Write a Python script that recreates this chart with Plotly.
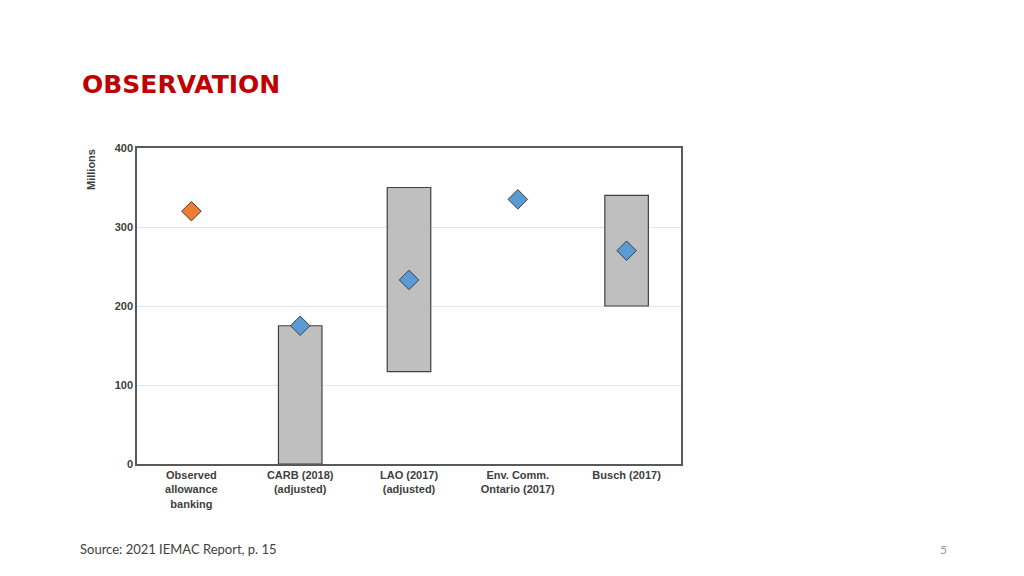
import plotly.graph_objects as go

categories = ["Observed<br>allowance<br>banking", "CARB (2018)<br>(adjusted)", "LAO (2017)<br>(adjusted)", "Env. Comm.<br>Ontario (2017)", "Busch (2017)"]
range_low = [None, 0, 117, None, 200]
range_high = [None, 175, 350, None, 340]
point_values = [320, 175, 233, 335, 270]
point_colors = ["#ED7D31", "#5B9BD5", "#5B9BD5", "#5B9BD5", "#5B9BD5"]

bar_len = [None if l is None else h - l for l, h in zip(range_low, range_high)]

L, R, T, B = 129, 351, 140, 120
fig = go.Figure()
fig.add_trace(go.Bar(x=categories, y=bar_len, base=range_low, width=0.4,
                     marker=dict(color="#BFBFBF", line=dict(color="#404040", width=1.2)),
                     showlegend=False))
fig.add_trace(go.Scatter(x=categories, y=point_values, mode="markers",
                         marker=dict(symbol="diamond", size=15, color=point_colors,
                                     line=dict(color="#404040", width=1)),
                         showlegend=False))
fig.update_layout(
    width=1024, height=576, paper_bgcolor="white", plot_bgcolor="white",
    margin=dict(l=L, r=R, t=T, b=B),
    font=dict(family="Liberation Sans", color="#404040"),
    xaxis=dict(showline=True, linecolor="#595959", linewidth=1.5, mirror=True,
               tickfont=dict(size=11, color="#404040"), ticks="", tickangle=0,
               tickprefix="<b>", ticksuffix="</b>"),
    yaxis=dict(range=[0, 400], dtick=100, showline=True, linecolor="#595959", linewidth=1.5,
               mirror=True, gridcolor="#E5E5E5", tickfont=dict(size=11, color="#404040"),
               tickprefix="<b>", ticksuffix="</b>"),
)
ann = [
    ("<b>OBSERVATION</b>", 72, 76, dict(size=25, color="#C00000", family="DejaVu Sans"), "left", 0),
    ("Source: 2021 IEMAC Report, p. 15", 70, 541, dict(size=13, color="#404040", family="Lato"), "left", 0),
    ("5", 935, 541, dict(size=12, color="#999999", family="Lato"), "center", 0),
    ("<b>Millions</b>", 83, 162, dict(size=11, color="#404040"), "center", -90),
]
for text, px, py, f, xa, ang in ann:
    fig.add_annotation(text=text, x=(px - L) / (1024 - L - R), y=1 - (py - T) / (576 - T - B),
                       xref="paper", yref="paper", showarrow=False, font=f,
                       xanchor=xa, yanchor="middle", textangle=ang)
fig.write_html("out.html")
